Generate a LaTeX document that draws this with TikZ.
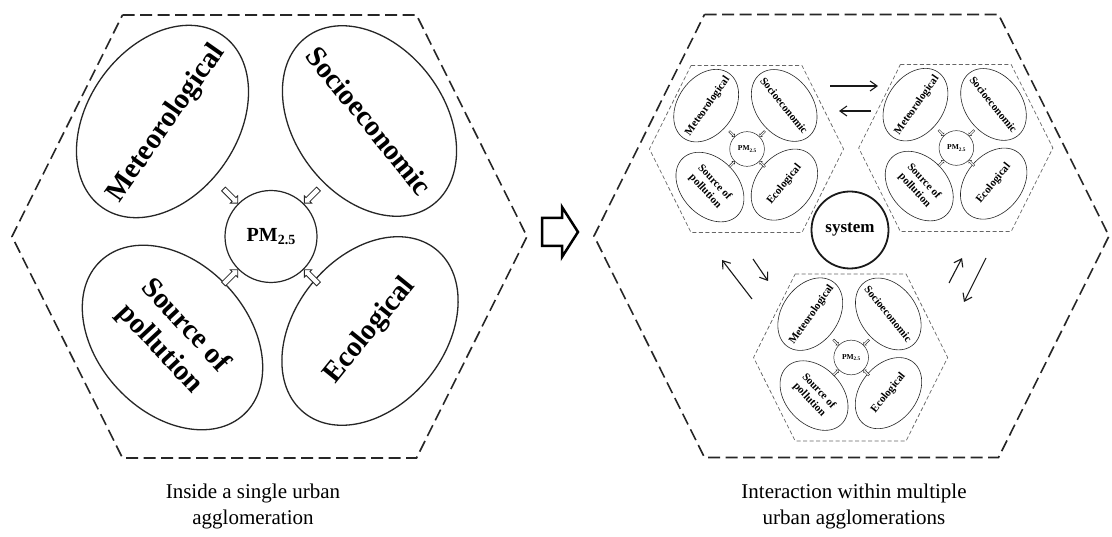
\documentclass[tikz,border=0pt]{standalone}
\usepackage{fontspec}
\setmainfont{Liberation Serif}
\usetikzlibrary{shapes.geometric,shapes.arrows,arrows.meta}
\begin{document}
\begin{tikzpicture}[x=1pt,y=1pt,
  hexline/.style={draw=black!85, line width=1.6pt, dash pattern=on 12pt off 5.5pt},
  ell/.style={ellipse, draw=black!85, line width=1.3pt, minimum width=210pt, minimum height=150pt, inner sep=0pt},
  lab/.style={font=\bfseries\fontsize{29}{34}\selectfont, align=center, inner sep=0pt},
  pmc/.style={circle, draw=black!85, line width=1.2pt, minimum size=92pt, inner sep=0pt, font=\bfseries\fontsize{20}{22}\selectfont},
  barrow/.style={single arrow, draw=black!85, fill=white, line width=0.8pt, minimum height=20pt, minimum width=10pt, inner sep=2.3pt, single arrow head extend=2.5pt},
  smallpanel/.style={scale=0.377, transform shape,
    hexline/.style={draw=black!60, line width=0.7pt, dash pattern=on 4pt off 2.5pt},
    ell/.append style={line width=0.6pt},
    pmc/.append style={line width=0.5pt},
    barrow/.append style={line width=0.4pt}},
  sysc/.style={circle, draw=black!90, line width=1.8pt, minimum size=77pt, inner sep=0pt, font=\bfseries\fontsize{17}{19}\selectfont},
  thinarrow/.style={draw=black!90, line width=1.1pt, -{Straight Barb[length=7pt,width=10pt]}},
  captext/.style={align=center, inner sep=0pt, font=\fontsize{21}{26}\selectfont},
  pics/panel/.style={code={
    \draw[hexline] (-147,221.5) -- (147,221.5) -- (257.5,0) -- (147,-221.5) -- (-147,-221.5) -- (-257.5,0) -- cycle;
    \node[ell, rotate=55] (met) at (-107,115) {};
    \node[lab, rotate=55] (metl) at ([shift={(4,-2)}]met.center) {Meteorological};
    \node[ell, rotate=-53] (soc) at (100,115.5) {};
    \node[lab, rotate=-51] (socl) at (soc.center) {Socioeconomic};
    \node[ell, rotate=-47] (src) at (-97,-101) {};
    \node[lab, rotate=-47] (srcl) at (src.center) {Source of\\pollution};
    \node[ell, rotate=51] (eco) at (100.5,-94.5) {};
    \node[lab, rotate=51] (ecol) at (eco.center) {Ecological};
    \node[pmc] (pm) at (1.5,0) {PM\raisebox{-0.35ex}{\fontsize{14}{14}\selectfont 2.5}};
    \node[barrow, anchor=tip, rotate=-45] (a1) at (pm.135) {};
    \node[barrow, anchor=tip, rotate=-135] (a2) at (pm.45) {};
    \node[barrow, anchor=tip, rotate=45] (a3) at (pm.225) {};
    \node[barrow, anchor=tip, rotate=135] (a4) at (pm.-45) {};
  }}
]
\useasboundingbox (0,0) rectangle (1112,536);
\fill[white] (0,0) rectangle (1112,536);

% left panel
\pic (L) at (269.5,299.5) {panel};
\node[captext] (capL) at (253,30) {Inside a single urban\\agglomeration};

% big arrow
\draw[line width=2.5pt, line join=miter, draw=black] (542,318) -- (562,318) -- (562,329) -- (578,304) -- (562,279) -- (562,290) -- (542,290) -- cycle;

% right panel
\begin{scope}[shift={(851.5,300)}]
\draw[hexline] (-147,221.5) -- (147,221.5) -- (257.5,0) -- (147,-221.5) -- (-147,-221.5) -- (-257.5,0) -- cycle;
\end{scope}
\pic[smallpanel] (P1) at (746.5,387) {panel};
\pic[smallpanel] (P2) at (955.8,388) {panel};
\pic[smallpanel] (P3) at (850.6,178.5) {panel};
\node[sysc] (sys) at (850,306) {system};

\coordinate (a1s) at (830,450); \coordinate (a1e) at (878,450);
\coordinate (a2s) at (871,425); \coordinate (a2e) at (839,425);
\coordinate (a3s) at (752,237); \coordinate (a3e) at (722,276);
\coordinate (a4s) at (753,277); \coordinate (a4e) at (768,255);
\coordinate (a5s) at (949,253); \coordinate (a5e) at (962,278);
\coordinate (a6s) at (986,278); \coordinate (a6e) at (964,234);
\draw[thinarrow] (a1s) -- (a1e);
\draw[thinarrow] (a2s) -- (a2e);
\draw[thinarrow] (a3s) -- (a3e);
\draw[thinarrow] (a4s) -- (a4e);
\draw[thinarrow] (a5s) -- (a5e);
\draw[thinarrow] (a6s) -- (a6e);

\node[captext] (capR) at (854,30) {Interaction within multiple\\urban agglomerations};
\end{tikzpicture}
\end{document}
